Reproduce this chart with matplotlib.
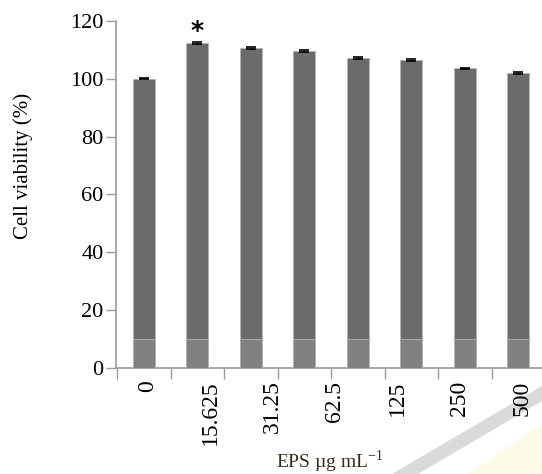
import numpy as np
import matplotlib.pyplot as plt
from matplotlib.patches import Polygon

# cell viability after EPS treatment
doses = ['0', '15.625', '31.25', '62.5', '125', '250', '500']
viability = [100.0, 112.3, 110.7, 109.5, 107.2, 106.5, 103.6, 101.9]
errors = [0.2, 0.4, 0.3, 0.3, 0.3, 0.3, 0.3, 0.3]
base_level = 10
signif = [1]

plt.rcParams['font.family'] = ['Liberation Serif', 'DejaVu Serif']

fig = plt.figure(figsize=(5.42, 4.74), dpi=100)
ax = fig.add_axes([116/542, 1 - 368/474, 1 - 116/542, (368 - 21)/474])
ax.patch.set_alpha(0)

x = np.arange(len(viability))
ax.bar(x, viability, width=0.41, color='#6b6b6b', edgecolor='#b5b5b5', linewidth=0.6, zorder=2)
ax.bar(x, [base_level]*len(x), width=0.41, color='#818181', edgecolor='#b5b5b5', linewidth=0.6, zorder=3)
ax.errorbar(x, viability, yerr=errors, fmt='none', ecolor='black', elinewidth=1.0,
            capsize=3.5, capthick=1.2, zorder=4)

for i in signif:
    ax.annotate('*', (x[i], viability[i] + errors[i]), xytext=(0, -1), textcoords='offset points',
                ha='center', va='bottom', fontsize=18, fontweight='bold',
                family=['DejaVu Sans'])

ax.set_xlim(-0.52, 7.44)
ax.set_ylim(0, 120)
ax.set_yticks(np.arange(0, 121, 20))
ax.tick_params(axis='y', labelsize=16, length=7, width=1, color='#9a9a9a', pad=2)

# boundary ticks between groups, labels spread over the bars
ax.set_xticks(np.arange(-0.5, 7, 1))
ax.set_xticklabels([])
ax.tick_params(axis='x', which='major', length=8, width=1, color='#9a9a9a')
lab_pos = 0.07 + np.arange(len(doses)) * 7 / 6
ax.set_xticks(lab_pos, minor=True)
ax.set_xticklabels(doses, minor=True, rotation=90, fontsize=17, va='top')
ax.tick_params(axis='x', which='minor', length=0, pad=9)

for s in ['top', 'right']:
    ax.spines[s].set_visible(False)
for s in ['left', 'bottom']:
    ax.spines[s].set_color('#9a9a9a')
    ax.spines[s].set_linewidth(1.2)

fig.text(23/542, 1 - 166/474, 'Cell viability (%)', rotation=90, ha='center', va='center', fontsize=15)
fig.text(330/542, 1 - 462/474, r'EPS µg mL$^{\mathregular{-1}}$', ha='center', va='center', fontsize=14,
         color='#3a2a1a')

# watermark band in the corner
W, H = 542, 474
band = [(392, 474), (542, 386), (542, 401), (418, 474)]
fig.patches.append(Polygon([(px/W, 1 - py/H) for px, py in band], closed=True,
                           transform=fig.transFigure, facecolor='#dadada', edgecolor='none', zorder=-2))
yel = [(468, 474), (542, 424), (542, 474)]
fig.patches.append(Polygon([(px/W, 1 - py/H) for px, py in yel], closed=True,
                           transform=fig.transFigure, facecolor='#fdfbe6', edgecolor='none', zorder=-2))

fig.savefig('out.png', dpi=100)
